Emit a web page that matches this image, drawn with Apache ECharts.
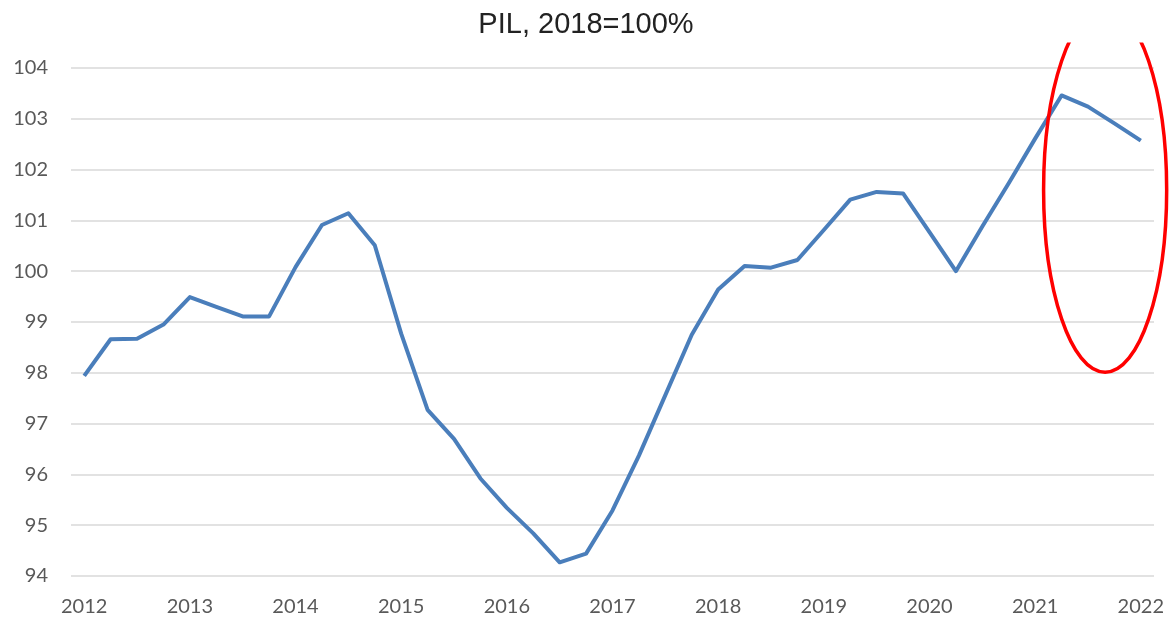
<!DOCTYPE html>
<html>
<head>
<meta charset="utf-8">
<script src="https://cdn.jsdelivr.net/npm/echarts@6/dist/echarts.min.js"></script>
<style>
  html, body { margin: 0; padding: 0; background: #fff; }
  #chart { width: 1172px; height: 618px; }
</style>
</head>
<body>
<div id="chart"></div>
<script>
// trimestri 2012 T1 - 2022 T1
const quarters = [
  '2012 T1', '2012 T2', '2012 T3', '2012 T4',
  '2013 T1', '2013 T2', '2013 T3', '2013 T4',
  '2014 T1', '2014 T2', '2014 T3', '2014 T4',
  '2015 T1', '2015 T2', '2015 T3', '2015 T4',
  '2016 T1', '2016 T2', '2016 T3', '2016 T4',
  '2017 T1', '2017 T2', '2017 T3', '2017 T4',
  '2018 T1', '2018 T2', '2018 T3', '2018 T4',
  '2019 T1', '2019 T2', '2019 T3', '2019 T4',
  '2020 T1', '2020 T2', '2020 T3', '2020 T4',
  '2021 T1', '2021 T2', '2021 T3', '2021 T4',
  '2022 T1'
]

// PIL, 2018=100
const pil = [
  97.94, 98.66, 98.67, 98.95, 99.49, 99.30, 99.11, 99.11,
  100.08, 100.91, 101.14, 100.51, 98.77, 97.27, 96.70, 95.92,
  95.34, 94.84, 94.27, 94.44, 95.29, 96.37, 97.56, 98.75,
  99.64, 100.10, 100.07, 100.22, 100.81, 101.41, 101.56, 101.53,
  100.77, 100.00, 100.88, 101.73, 102.61, 103.46, 103.24, 102.91,
  102.57
]

const yMin = 94
const yMax = 104

// ellisse rossa (in coordinate dei dati)
const ovalCenterIdx = 38.65
const ovalHalfWidthQ = 2.33
const ovalCenterVal = 101.6
const ovalHalfHeight = 3.59
const ovalClipVal = 104.5

const myChart = echarts.init(document.getElementById('chart'))

const option = {
  animation: false,
  backgroundColor: '#ffffff',
  title: {
    text: 'PIL, 2018=100%',
    left: 'center',
    top: 5,
    textStyle: {
      fontFamily: 'Liberation Sans',
      fontSize: 29,
      fontWeight: 'normal',
      color: '#222222'
    }
  },
  grid: {
    left: 71,
    right: 18,
    top: 68,
    bottom: 42,
    containLabel: false
  },
  xAxis: {
    type: 'category',
    data: quarters,
    boundaryGap: true,
    axisLine: { show: false },
    axisTick: { show: false },
    axisLabel: {
      interval: 3,
      margin: 21,
      fontFamily: 'Lato',
      fontSize: 20,
      color: '#595959',
      formatter: function (v) { return v.slice(0, 4) }
    },
    splitLine: { show: false }
  },
  yAxis: {
    type: 'value',
    min: yMin,
    max: yMax,
    interval: 1,
    axisLine: { show: false },
    axisTick: { show: false },
    axisLabel: {
      margin: 23,
      fontFamily: 'Lato',
      fontSize: 20,
      color: '#595959'
    },
    splitLine: {
      lineStyle: { color: '#d9d9d9', width: 1.5 }
    }
  },
  series: [
    {
      type: 'line',
      name: 'PIL',
      data: pil,
      showSymbol: false,
      symbol: 'none',
      lineStyle: { color: '#4a7ebb', width: 4, join: 'round' }
    }
  ]
}

myChart.setOption(option)

// posiziona l'ellisse tramite gli assi
const px0 = myChart.convertToPixel({ xAxisIndex: 0 }, 0)
const px1 = myChart.convertToPixel({ xAxisIndex: 0 }, 1)
const qStep = px1 - px0
const cx = px0 + ovalCenterIdx * qStep
const cy = myChart.convertToPixel({ yAxisIndex: 0 }, ovalCenterVal)
const ry = cy - myChart.convertToPixel({ yAxisIndex: 0 }, ovalCenterVal + ovalHalfHeight)
const clipY = myChart.convertToPixel({ yAxisIndex: 0 }, ovalClipVal)

myChart.setOption({
  graphic: [
    {
      type: 'ellipse',
      z: 10,
      shape: { cx: cx, cy: cy, rx: ovalHalfWidthQ * qStep, ry: ry },
      style: { fill: 'none', stroke: '#ff0000', lineWidth: 3.5 }
    },
    {
      type: 'rect',
      z: 11,
      shape: { x: cx - 90, y: 0, width: 180, height: clipY },
      style: { fill: '#ffffff' }
    }
  ]
})

window.addEventListener('resize', function () {
  myChart.resize()
})
</script>
</body>
</html>
